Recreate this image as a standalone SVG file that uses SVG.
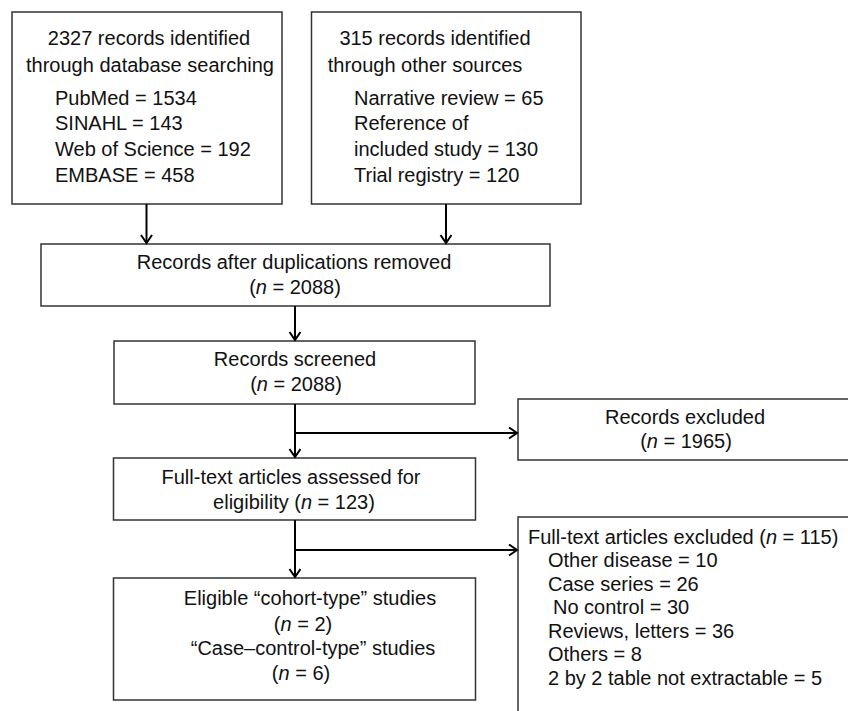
<svg xmlns="http://www.w3.org/2000/svg" width="848" height="711" viewBox="0 0 848 711">
<style>
.box{fill:#fff;stroke:#333;stroke-width:1.5}
.t{font-family:"Liberation Sans",Arial,sans-serif;font-size:20px;fill:#111}
.c{text-anchor:middle}
.conn{stroke:#000;stroke-width:2;fill:none}
</style>
<defs>
<marker id="ah" markerUnits="userSpaceOnUse" markerWidth="14" markerHeight="14" refX="10" refY="6" orient="auto">
<path d="M2,0.5 L10,6 L2,11.5" fill="none" stroke="#000" stroke-width="2"/>
</marker>
</defs>
<rect width="848" height="711" fill="#fff"/>
<g id="n1">
<rect class="box" x="12" y="12" width="270" height="192"/>
<text class="t c" x="149" y="45">2327 records identified</text>
<text class="t c" x="150" y="72">through database searching</text>
<text class="t" x="55" y="105">PubMed = 1534</text>
<text class="t" x="55" y="130">SINAHL = 143</text>
<text class="t" x="55" y="156">Web of Science = 192</text>
<text class="t" x="55" y="182">EMBASE = 458</text>
</g>
<g id="n2">
<rect class="box" x="311.5" y="12" width="269.5" height="192"/>
<text class="t c" x="435" y="45">315 records identified</text>
<text class="t c" x="425" y="72">through other sources</text>
<text class="t" x="354" y="105">Narrative review = 65</text>
<text class="t" x="354" y="130">Reference of</text>
<text class="t" x="354" y="156">included study = 130</text>
<text class="t" x="354" y="182">Trial registry = 120</text>
</g>
<g id="n3">
<rect class="box" x="41" y="244" width="509" height="62"/>
<text class="t c" x="294" y="269">Records after duplications removed</text>
<text class="t c" x="295" y="294">(<tspan font-style="italic">n</tspan> = 2088)</text>
</g>
<g id="n4">
<rect class="box" x="114" y="341" width="361" height="63"/>
<text class="t c" x="295" y="366">Records screened</text>
<text class="t c" x="296" y="391">(<tspan font-style="italic">n</tspan> = 2088)</text>
</g>
<g id="n5">
<rect class="box" x="518" y="399" width="335" height="61"/>
<text class="t c" x="685" y="424">Records excluded</text>
<text class="t c" x="686" y="448">(<tspan font-style="italic">n</tspan> = 1965)</text>
</g>
<g id="n6">
<rect class="box" x="113.5" y="458" width="362" height="62"/>
<text class="t c" x="291" y="484">Full-text articles assessed for</text>
<text class="t c" x="294" y="509">eligibility (<tspan font-style="italic">n</tspan> = 123)</text>
</g>
<g id="n7">
<rect class="box" x="518" y="517" width="335" height="200"/>
<text class="t" x="528" y="544">Full-text articles excluded (<tspan font-style="italic">n</tspan> = 115)</text>
<text class="t" x="548" y="567">Other disease = 10</text>
<text class="t" x="548" y="591">Case series = 26</text>
<text class="t" x="553" y="614">No control = 30</text>
<text class="t" x="548" y="638">Reviews, letters = 36</text>
<text class="t" x="548" y="661">Others = 8</text>
<text class="t" x="548" y="685">2 by 2 table not extractable = 5</text>
</g>
<g id="n8">
<rect class="box" x="113.5" y="578" width="362" height="122"/>
<text class="t c" x="310" y="605">Eligible “cohort-type” studies</text>
<text class="t c" x="303" y="631">(<tspan font-style="italic">n</tspan> = 2)</text>
<text class="t c" x="313" y="655">“Case–control-type” studies</text>
<text class="t c" x="301" y="680">(<tspan font-style="italic">n</tspan> = 6)</text>
</g>
<g id="connectors">
<line class="conn" x1="146.5" y1="204" x2="146.5" y2="243" marker-end="url(#ah)"/>
<line class="conn" x1="446" y1="204" x2="446" y2="243" marker-end="url(#ah)"/>
<line class="conn" x1="295" y1="306" x2="295" y2="340" marker-end="url(#ah)"/>
<line class="conn" x1="295" y1="404" x2="295" y2="457" marker-end="url(#ah)"/>
<line class="conn" x1="295" y1="433" x2="517" y2="433" marker-end="url(#ah)"/>
<line class="conn" x1="295" y1="520" x2="295" y2="577" marker-end="url(#ah)"/>
<line class="conn" x1="295" y1="550" x2="517" y2="550" marker-end="url(#ah)"/>
</g>
</svg>
